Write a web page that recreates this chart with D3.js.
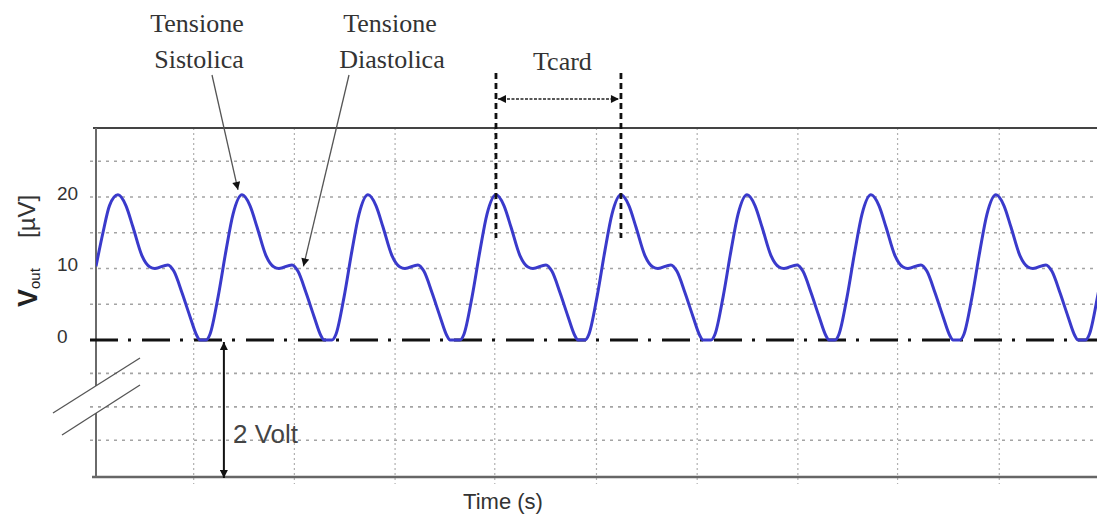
<!DOCTYPE html>
<html>
<head>
<meta charset="utf-8">
<script src="https://cdn.jsdelivr.net/npm/d3@7"></script>
<style>
  body { margin: 0; background: #fff; }
  svg { display: block; }
</style>
</head>
<body>
<svg id="chart" width="1097" height="516"></svg>
<script>
// ---------- DATA ----------
// time in ms, Vout in µV
const timeMs = [
  0, 6.9, 13.4, 21.8,
  29.7, 36.7, 45.6, 53.6, 58.5, 71.4, 77.4, 85.4, 93.3, 100.2, 103.2,
  109.3, 113.2, 121.2, 129.1, 136.1, 145.0,
  152.9, 159.9, 168.8, 176.8, 181.7, 194.6, 200.6, 208.6, 216.5, 223.4, 226.4,
  234.4, 238.3, 246.3, 254.2, 261.2, 270.1,
  278.0, 285.0, 293.9, 301.9, 306.8, 319.7, 325.7, 333.7, 341.6, 348.5, 351.5,
  361.5, 365.4, 373.4, 381.3, 388.3, 397.2,
  405.1, 412.1, 421.0, 429.0, 433.9, 446.8, 452.8, 460.8, 468.7, 475.6, 478.6,
  485.6, 489.5, 497.5, 505.4, 512.4, 521.3,
  529.2, 536.2, 545.1, 553.1, 558.0, 570.9, 576.9, 584.9, 592.8, 599.7, 602.7,
  610.8, 614.7, 622.7, 630.6, 637.6, 646.5,
  654.4, 661.4, 670.3, 678.3, 683.2, 696.1, 702.1, 710.1, 718.0, 724.9, 727.9,
  733.9, 737.8, 745.8, 753.7, 760.7, 769.6,
  777.5, 784.5, 793.4, 801.4, 806.3, 819.2, 825.2, 833.2, 841.1, 848.0, 851.0,
  858.0, 861.9, 869.9, 877.8, 884.8, 893.7,
  901.6, 908.6, 917.5, 925.5, 930.4, 943.3, 949.3, 957.3, 965.2, 972.1, 975.1,
  982.6, 986.5, 994.5, 1002.4
];
const voutMicroV = [
  10.3, 15.0, 18.8, 20.3,
  18.8, 15.8, 11.8, 10.2, 10.0, 10.5, 9.6, 6.6, 3.3, 0.6, 0,
  0, 0.8, 6.0, 12.5, 17.6, 20.3,
  18.8, 15.8, 11.8, 10.2, 10.0, 10.5, 9.6, 6.6, 3.3, 0.6, 0,
  0, 0.8, 6.0, 12.5, 17.6, 20.3,
  18.8, 15.8, 11.8, 10.2, 10.0, 10.5, 9.6, 6.6, 3.3, 0.6, 0,
  0, 0.8, 6.0, 12.5, 17.6, 20.3,
  18.8, 15.8, 11.8, 10.2, 10.0, 10.5, 9.6, 6.6, 3.3, 0.6, 0,
  0, 0.8, 6.0, 12.5, 17.6, 20.3,
  18.8, 15.8, 11.8, 10.2, 10.0, 10.5, 9.6, 6.6, 3.3, 0.6, 0,
  0, 0.8, 6.0, 12.5, 17.6, 20.3,
  18.8, 15.8, 11.8, 10.2, 10.0, 10.5, 9.6, 6.6, 3.3, 0.6, 0,
  0, 0.8, 6.0, 12.5, 17.6, 20.3,
  18.8, 15.8, 11.8, 10.2, 10.0, 10.5, 9.6, 6.6, 3.3, 0.6, 0,
  0, 0.8, 6.0, 12.5, 17.6, 20.3,
  18.8, 15.8, 11.8, 10.2, 10.0, 10.5, 9.6, 6.6, 3.3, 0.6, 0,
  0, 0.8, 6.0, 12.5
];
const xGridMs = [97, 197, 297, 396, 497, 597, 697, 796, 897, 1000];
const yGridMicroV = [-15, -10, -5, 5, 10, 15, 20, 25];
const yTickLabels = [0, 10, 20];
const tcardPeaksMs = [397.2, 521.3];
const systolicTip = { t: 141, v: 21.0 };
const diastolicTip = { t: 206, v: 10.3 };
const offsetArrowMs = 127;

// ---------- SCALES ----------
const svg = d3.select('#chart');
const x = d3.scaleLinear().domain([0, 1000]).range([96, 1103]);
// broken axis: lower part (below the break) is compressed
const y = d3.scaleLinear().domain([-20.5, 0, 29.65]).range([477, 340, 128]);
const pLeft = 96, pRight = 1097, pTop = 128, pBottom = 477;

const sans = '"Liberation Sans", Arial, sans-serif';
const serif = '"Liberation Serif", "Times New Roman", serif';

// ---------- DEFS ----------
const defs = svg.append('defs');
defs.append('clipPath').attr('id', 'plotClip')
  .append('rect').attr('x', pLeft).attr('y', pTop - 5).attr('width', pRight - pLeft).attr('height', pBottom - pTop + 10);
defs.append('marker').attr('id', 'arr')
  .attr('viewBox', '0 0 10 10').attr('refX', 10).attr('refY', 5)
  .attr('markerWidth', 10).attr('markerHeight', 8)
  .attr('markerUnits', 'userSpaceOnUse').attr('orient', 'auto-start-reverse')
  .append('path').attr('d', 'M0,0L10,5L0,10z').attr('fill', '#111');

// ---------- GRID ----------
svg.append('g').selectAll('line').data(yGridMicroV).join('line')
  .attr('x1', 90).attr('x2', pRight)
  .attr('y1', d => y(d)).attr('y2', d => y(d))
  .attr('stroke', '#a4a4a4').attr('stroke-width', 1.7).attr('stroke-dasharray', '3,5');

svg.append('g').selectAll('line').data(xGridMs).join('line')
  .attr('x1', d => x(d)).attr('x2', d => x(d))
  .attr('y1', pTop).attr('y2', pBottom + 7)
  .attr('stroke', '#b0b0b0').attr('stroke-width', 1.2).attr('stroke-dasharray', '2,3');

// ---------- AXES / FRAME ----------
svg.append('line').attr('x1', 93).attr('x2', pRight).attr('y1', pTop).attr('y2', pTop)
  .attr('stroke', '#444').attr('stroke-width', 1.8);
svg.append('line').attr('x1', 92).attr('x2', pRight).attr('y1', pBottom).attr('y2', pBottom)
  .attr('stroke', '#666').attr('stroke-width', 2.5);
// left axis with break
svg.append('line').attr('x1', pLeft).attr('x2', pLeft).attr('y1', pTop).attr('y2', 386)
  .attr('stroke', '#6a6a6a').attr('stroke-width', 2);
svg.append('line').attr('x1', pLeft).attr('x2', pLeft).attr('y1', 413).attr('y2', pBottom)
  .attr('stroke', '#6a6a6a').attr('stroke-width', 2);
// break marks
svg.append('line').attr('x1', 53).attr('y1', 413).attr('x2', 140).attr('y2', 358)
  .attr('stroke', '#555').attr('stroke-width', 1.3);
svg.append('line').attr('x1', 62).attr('y1', 435).attr('x2', 140).attr('y2', 385)
  .attr('stroke', '#555').attr('stroke-width', 1.3);

// y tick labels
const yAxis = svg.append('g').attr('transform', `translate(${pLeft},0)`)
  .call(d3.axisLeft(y).tickValues(yTickLabels).tickSize(0).tickPadding(0).tickFormat(d3.format('d')));
yAxis.select('.domain').remove();
yAxis.selectAll('text')
  .attr('x', -39).attr('dy', '0.12em')
  .attr('text-anchor', 'start')
  .style('font-family', sans).style('font-size', '19px').attr('fill', '#333');

// ---------- ZERO LINE (dash-dot) ----------
svg.append('line').attr('x1', 90).attr('x2', pRight).attr('y1', y(0)).attr('y2', y(0))
  .attr('stroke', '#111').attr('stroke-width', 3).attr('stroke-dasharray', '28,10,3,11');

// ---------- SIGNAL ----------
const pts = timeMs.map((t, i) => [t, voutMicroV[i]]);
const line = d3.line().x(d => x(d[0])).y(d => y(d[1])).curve(d3.curveMonotoneX);
svg.append('path').datum(pts)
  .attr('clip-path', 'url(#plotClip)')
  .attr('d', line)
  .attr('fill', 'none').attr('stroke', '#3a3acb').attr('stroke-width', 3)
  .attr('stroke-linejoin', 'round');

// ---------- ANNOTATIONS ----------
// Tcard dashed verticals
svg.append('g').selectAll('line').data(tcardPeaksMs).join('line')
  .attr('x1', d => x(d)).attr('x2', d => x(d))
  .attr('y1', 73).attr('y2', 238)
  .attr('stroke', '#111').attr('stroke-width', 2.8).attr('stroke-dasharray', '6,4');
svg.append('line')
  .attr('x1', x(tcardPeaksMs[0]) + 2).attr('x2', x(tcardPeaksMs[1]) - 2)
  .attr('y1', 99).attr('y2', 99)
  .attr('stroke', '#222').attr('stroke-width', 1.4).attr('stroke-dasharray', '3,1.5')
  .attr('marker-start', 'url(#arr)').attr('marker-end', 'url(#arr)');
svg.append('text').attr('x', (x(tcardPeaksMs[0]) + x(tcardPeaksMs[1])) / 2 + 4).attr('y', 70)
  .attr('text-anchor', 'middle').style('font-family', serif).style('font-size', '26px')
  .attr('fill', '#333').text('Tcard');

// Systolic / diastolic labels
const labels = [
  { lines: ['Tensione', 'Sistolica'], cx: 197, sx: 212, tip: systolicTip },
  { lines: ['Tensione', 'Diastolica'], cx: 390, sx: 349, tip: diastolicTip }
];
labels.forEach(l => {
  const t = svg.append('text').attr('text-anchor', 'middle')
    .style('font-family', serif).style('font-size', '26px').attr('fill', '#333');
  t.append('tspan').attr('x', l.cx).attr('y', 32).text(l.lines[0]);
  t.append('tspan').attr('x', l.cx + 2).attr('y', 68).text(l.lines[1]);
  svg.append('line').attr('x1', l.sx).attr('y1', 75)
    .attr('x2', x(l.tip.t)).attr('y2', y(l.tip.v))
    .attr('stroke', '#555').attr('stroke-width', 1.3)
    .attr('marker-end', 'url(#arr)');
});

// 2 Volt offset arrow
svg.append('line').attr('x1', x(offsetArrowMs)).attr('x2', x(offsetArrowMs))
  .attr('y1', y(0) + 2).attr('y2', pBottom + 1)
  .attr('stroke', '#111').attr('stroke-width', 2)
  .attr('marker-start', 'url(#arr)').attr('marker-end', 'url(#arr)');
svg.append('text').attr('x', 233).attr('y', 443)
  .style('font-family', sans).style('font-size', '26px').attr('fill', '#444').text('2 Volt');

// axis titles
svg.append('text').attr('x', 503).attr('y', 509).attr('text-anchor', 'middle')
  .style('font-family', sans).style('font-size', '22px').attr('fill', '#333').text('Time (s)');

const yt = svg.append('g').attr('transform', 'translate(37,307) rotate(-90)');
const ytxt = yt.append('text').attr('x', 0).attr('y', 0).style('font-family', sans).attr('fill', '#222');
ytxt.append('tspan').style('font-size', '27px').style('font-weight', 'bold').text('V');
ytxt.append('tspan').style('font-size', '15px').attr('dy', 3).text('out');
yt.append('text').attr('x', 69).attr('y', -2).style('font-family', sans).style('font-size', '24px')
  .attr('fill', '#333').text('[µV]');
</script>
</body>
</html>
